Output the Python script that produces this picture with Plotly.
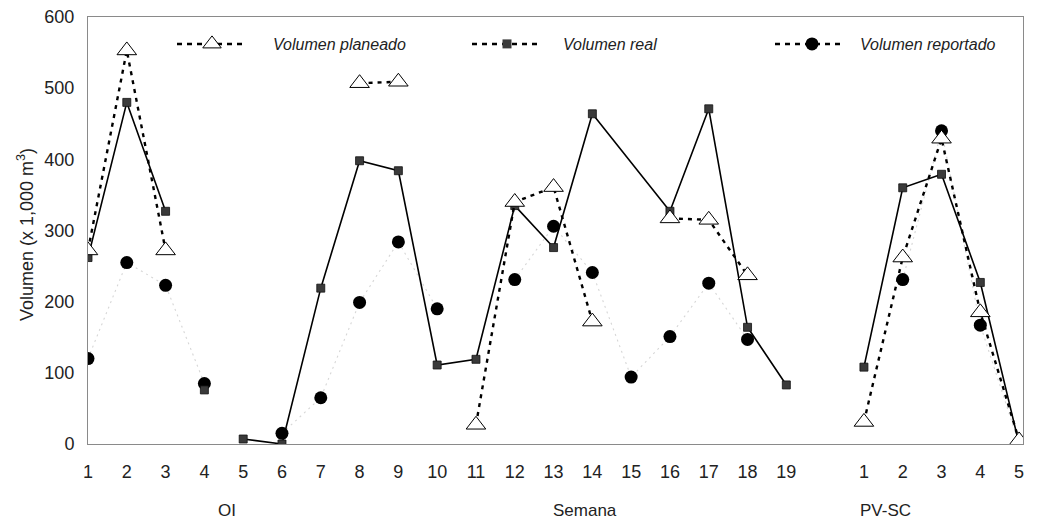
import plotly.graph_objects as go

# ---------------- data ----------------
oi_weeks = list(range(1, 20))            # "OI" / Semana 1..19
pv_weeks = [1, 2, 3, 4, 5]               # PV-SC 1..5
oi_pos = list(range(1, 20))
pv_pos = [21, 22, 23, 24, 25]

planeado_oi = [272, 553, 272, None, None, None, None, 507, 509, None,
               27, 340, 361, 172, None, 317, 315, 237, None]
real_oi = [262, 480, 327, 76, 7, 0, 219, 398, 384, 111,
           119, 335, 276, 464, None, 327, 471, 164, 83]
reportado_oi = [120, 255, 223, 85, None, 15, 65, 199, 284, 190,
                None, 231, 306, 241, 94, 151, 226, 147, None]

planeado_pv = [31, 262, 429, 185, 5]
real_pv = [108, 360, 379, 227, 0]
reportado_pv = [None, 231, 440, 167, 0]

real_unlinked_oi = [4]   # week drawn as a lone marker (no connecting line)

tick_vals = oi_pos + pv_pos
tick_text = [str(w) for w in oi_weeks] + [str(w) for w in pv_weeks]

FONT = "Liberation Sans Narrow, Liberation Sans, Arial, sans-serif"
TFONT = "Liberation Sans, Arial, sans-serif"
DOT = "4px,5px"

# page body has an 8px margin: figure is sized so the plot area lands where the original is
W, H = 1026, 515
ML, MR, MT, MB = 80, 11, 9, 79
PW, PH = W - ML - MR, H - MT - MB
OFF = 8
def px(xpix):   # screen x -> paper x
    return (xpix - OFF - ML) / PW
def py(ypix):   # screen y -> paper y
    return 1 - (ypix - OFF - MT) / PH

fig = go.Figure()

groups = [(oi_pos, oi_weeks, planeado_oi, real_oi, reportado_oi, real_unlinked_oi),
          (pv_pos, pv_weeks, planeado_pv, real_pv, reportado_pv, [])]

for pos, weeks, plan, real, rep, unlinked in groups:
    # reportado: faint dotted line + black circles
    fig.add_trace(go.Scatter(x=pos, y=rep, mode="lines", showlegend=False,
                             line=dict(color="#d6d6d6", width=1.1, dash="2px,4px"),
                             hoverinfo="skip"))
    fig.add_trace(go.Scatter(x=pos, y=rep, mode="markers", showlegend=False,
                             marker=dict(symbol="circle", size=13, color="black")))
    # real: solid line (connects across missing weeks, not to unlinked weeks)
    lx, ly = [], []
    for p, w, v in zip(pos, weeks, real):
        if v is None:
            continue
        if w in unlinked:
            lx.append(None); ly.append(None)
            continue
        lx.append(p); ly.append(v)
    fig.add_trace(go.Scatter(x=lx, y=ly, mode="lines", showlegend=False,
                             line=dict(color="black", width=1.6), hoverinfo="skip"))
    fig.add_trace(go.Scatter(x=pos, y=real, mode="markers", showlegend=False,
                             marker=dict(symbol="square", size=8, color="#3a3a3a",
                                         line=dict(color="#111", width=0.8))))
    # planeado: dotted line + open triangles
    fig.add_trace(go.Scatter(x=pos, y=plan, mode="lines+markers", showlegend=False,
                             line=dict(color="black", width=2.4, dash=DOT),
                             marker=dict(symbol="triangle-up", size=17, color="white",
                                         line=dict(color="black", width=1))))

# legend entries (three separate legends placed like the original)
legend_items = [
    ("Volumen planeado", "legend", dict(symbol="triangle-up", size=17, color="white",
                                        line=dict(color="black", width=1))),
    ("Volumen real", "legend2", dict(symbol="square", size=9, color="#3a3a3a")),
    ("Volumen reportado", "legend3", dict(symbol="circle", size=13, color="black")),
]
for name, leg, mk in legend_items:
    fig.add_trace(go.Scatter(x=[None], y=[None], mode="markers", name=name,
                             legend=leg, marker=mk))

# legend geometry (screen px): marker centre, dashed sample start/end, text start
leg_geom = [(212, 177, 245, 273), (507, 472, 540, 563), (812, 775, 845, 860)]
LEG_Y = 44
leg_layouts = {}
for (name, leg, _), (mx, l0, l1, tx) in zip(legend_items, leg_geom):
    iw = 2 * (tx - mx - 5)
    x0 = tx - 10 - iw
    leg_layouts[leg] = dict(x=px(x0), y=py(LEG_Y), xanchor="left", yanchor="middle",
                            bgcolor="rgba(0,0,0,0)", borderwidth=0,
                            itemwidth=max(30, iw), itemsizing="trace",
                            font=dict(family=TFONT, size=16, color="#222", style="italic"))
    fig.add_shape(type="line", xref="paper", yref="paper", x0=px(l0), x1=px(l1),
                  y0=py(LEG_Y), y1=py(LEG_Y), layer="above",
                  line=dict(color="black", width=2.4, dash="5px,5px"))

fig.update_layout(
    width=W, height=H,
    margin=dict(l=ML, r=MR, t=MT, b=MB, autoexpand=False),
    paper_bgcolor="white", plot_bgcolor="white",
    font=dict(family=FONT, size=14, color="#222"),
    **leg_layouts,
    xaxis=dict(range=[1, 25.1], tickmode="array", tickvals=tick_vals, ticktext=tick_text,
               showgrid=False, zeroline=False, showline=True, linecolor="#8a8a8a",
               linewidth=1, mirror=True, ticks="", ticklabelstandoff=11, automargin=False,
               ticklabeloverflow="allow",
               tickfont=dict(family=FONT, size=18, color="#222")),
    yaxis=dict(range=[0, 600], tickvals=[0, 100, 200, 300, 400, 500, 600],
               showgrid=False, zeroline=False, showline=True, linecolor="#8a8a8a",
               linewidth=1, mirror=True, ticks="", ticklabelstandoff=9, automargin=False,
               ticklabeloverflow="allow",
               tickfont=dict(family=FONT, size=18, color="#222")),
)

fig.add_annotation(text="Volumen (x 1,000 m<sup>3</sup>)", textangle=-90,
                   x=px(25), y=py(235), xref="paper", yref="paper",
                   showarrow=False, xanchor="center", yanchor="middle",
                   font=dict(family=TFONT, size=18, color="#222"))

for label, xpix in [("OI", 227), ("Semana", 585), ("PV-SC", 885)]:
    fig.add_annotation(text=label, x=px(xpix), y=py(510), xref="paper", yref="paper",
                       showarrow=False, xanchor="center", yanchor="middle",
                       font=dict(family=TFONT, size=17, color="#222"))

fig.write_html("out.html")
